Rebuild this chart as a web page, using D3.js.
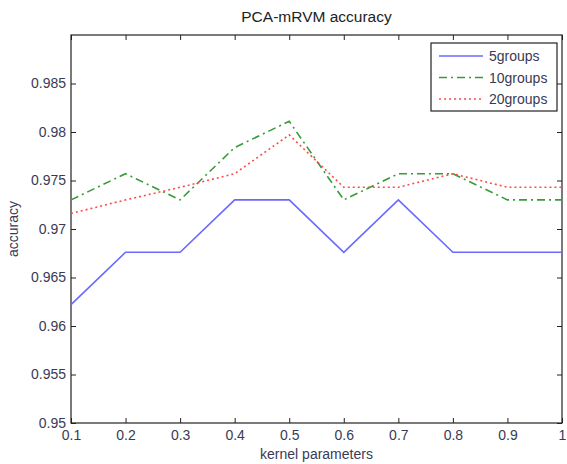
<!DOCTYPE html>
<html>
<head>
<meta charset="utf-8">
<script src="https://cdn.jsdelivr.net/npm/d3@7"></script>
<style>
  body { margin: 0; background: #fff; }
  text { font-family: "Liberation Sans", Arial, sans-serif; }
</style>
</head>
<body>
<script>
// kernel parameter values on the x axis
const kernelParams = [0.1, 0.2, 0.3, 0.4, 0.5, 0.6, 0.7, 0.8, 0.9, 1.0];

// accuracy per group count
const acc5 = [0.9622, 0.9676, 0.9676, 0.9730, 0.9730, 0.9676, 0.9730, 0.9676, 0.9676, 0.9676];
const acc10 = [0.9730, 0.9757, 0.9730, 0.9784, 0.9811, 0.9730, 0.9757, 0.9757, 0.9730, 0.9730];
const acc20 = [0.9716, 0.9730, 0.9743, 0.9757, 0.9797, 0.9743, 0.9743, 0.9757, 0.9743, 0.9743];

const seriesNames = ["5groups", "10groups", "20groups"];
const xTicks = [0.1, 0.2, 0.3, 0.4, 0.5, 0.6, 0.7, 0.8, 0.9, 1];
const yTicks = [0.95, 0.955, 0.96, 0.965, 0.97, 0.975, 0.98, 0.985];

const width = 567, height = 464;
const margin = { top: 35, right: 5, bottom: 41, left: 71 };
const innerW = width - margin.left - margin.right;
const innerH = height - margin.top - margin.bottom;

const svg = d3.select("body").append("svg")
  .attr("width", width)
  .attr("height", height);

const g = svg.append("g")
  .attr("transform", `translate(${margin.left},${margin.top})`);

const x = d3.scaleLinear().domain([0.1, 1]).range([0, innerW]);
const y = d3.scaleLinear().domain([0.95, 0.99]).range([innerH, 0]);

const tickColor = "#3a3a55";
const fmt = d => (d === 1 ? "1" : String(+d.toFixed(3)));

// axes, ticks pointing inward, on all four sides
const styleAxis = sel => {
  sel.select(".domain").remove();
  sel.selectAll("line").attr("stroke", "#222");
  sel.selectAll("text").attr("fill", tickColor).style("font-size", "14px");
};

g.append("g")
  .attr("transform", `translate(0,${innerH})`)
  .call(d3.axisBottom(x).tickValues(xTicks).tickFormat(fmt).tickSizeInner(-5).tickSizeOuter(0).tickPadding(7))
  .call(styleAxis);

g.append("g")
  .call(d3.axisTop(x).tickValues(xTicks).tickFormat("").tickSizeInner(-5).tickSizeOuter(0))
  .call(styleAxis);

g.append("g")
  .call(d3.axisLeft(y).tickValues(yTicks).tickFormat(fmt).tickSizeInner(-5).tickSizeOuter(0).tickPadding(5))
  .call(styleAxis);

g.append("g")
  .attr("transform", `translate(${innerW},0)`)
  .call(d3.axisRight(y).tickValues(yTicks).tickFormat("").tickSizeInner(-5).tickSizeOuter(0))
  .call(styleAxis);

// plot box
g.append("rect")
  .attr("width", innerW)
  .attr("height", innerH)
  .attr("fill", "none")
  .attr("stroke", "#222")
  .attr("stroke-width", 1.2);

// lines
const series = [
  { name: seriesNames[0], values: acc5, color: "#6a6aff", dash: null },
  { name: seriesNames[1], values: acc10, color: "#3a9a3a", dash: "8,4,2,4" },
  { name: seriesNames[2], values: acc20, color: "#ff4a4a", dash: "2,3" }
];

const line = d3.line()
  .x((d, i) => x(kernelParams[i]))
  .y(d => y(d));

series.forEach(s => {
  g.append("path")
    .datum(s.values)
    .attr("fill", "none")
    .attr("stroke", s.color)
    .attr("stroke-width", 1.6)
    .attr("stroke-dasharray", s.dash)
    .attr("d", line);
});

// title and axis labels
svg.append("text")
  .attr("x", margin.left + innerW / 2)
  .attr("y", 22)
  .attr("text-anchor", "middle")
  .attr("fill", "#222")
  .style("font-size", "15.5px")
  .text("PCA-mRVM accuracy");

svg.append("text")
  .attr("x", margin.left + innerW / 2)
  .attr("y", height - 5)
  .attr("text-anchor", "middle")
  .attr("fill", tickColor)
  .style("font-size", "14px")
  .text("kernel parameters");

svg.append("text")
  .attr("transform", `translate(18,${margin.top + innerH / 2}) rotate(-90)`)
  .attr("text-anchor", "middle")
  .attr("fill", tickColor)
  .style("font-size", "14px")
  .text("accuracy");

// legend
const legend = svg.append("g").attr("transform", "translate(431,43)");
legend.append("rect")
  .attr("width", 126)
  .attr("height", 68)
  .attr("fill", "#fff")
  .attr("stroke", "#222")
  .attr("stroke-width", 1.2);

series.forEach((s, i) => {
  const ly = 13 + i * 21.5;
  legend.append("line")
    .attr("x1", 8).attr("x2", 52)
    .attr("y1", ly).attr("y2", ly)
    .attr("stroke", s.color)
    .attr("stroke-width", 1.6)
    .attr("stroke-dasharray", s.dash);
  legend.append("text")
    .attr("x", 58)
    .attr("y", ly + 5)
    .attr("fill", tickColor)
    .style("font-size", "14px")
    .text(s.name);
});
</script>
</body>
</html>
